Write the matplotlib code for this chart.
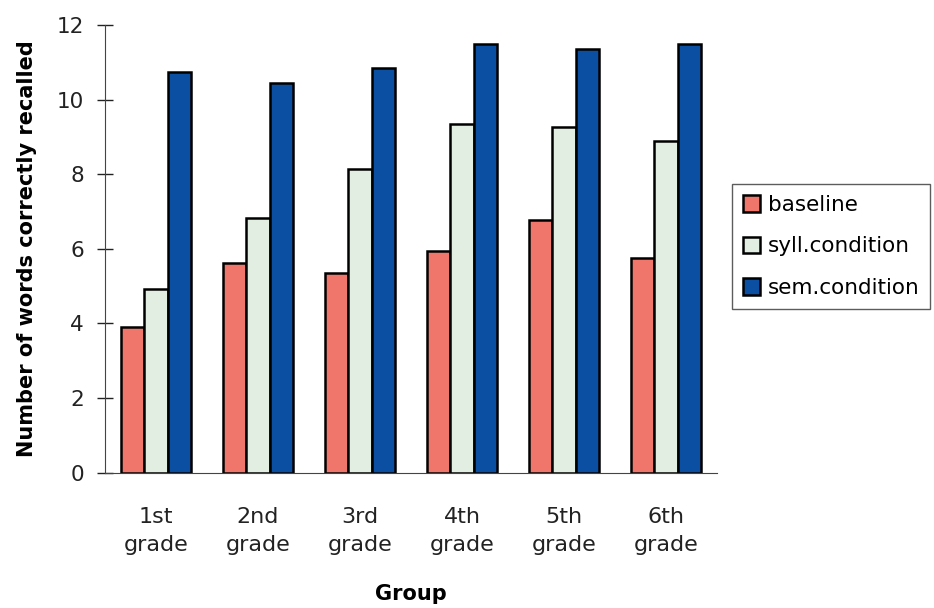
import numpy as np
import matplotlib.pyplot as plt

groups = ["1st\ngrade", "2nd\ngrade", "3rd\ngrade", "4th\ngrade", "5th\ngrade", "6th\ngrade"]
baseline = [3.91, 5.63, 5.34, 5.95, 6.77, 5.76]
syll = [4.92, 6.82, 8.14, 9.34, 9.27, 8.89]
sem = [10.75, 10.45, 10.86, 11.48, 11.36, 11.48]

series = [("baseline", baseline, "#f0756b"),
          ("syll.condition", syll, "#e2eee2"),
          ("sem.condition", sem, "#0b4fa3")]

fig = plt.figure(figsize=(9.34, 6.08), dpi=100)
ax = fig.add_axes([0.1124, 0.2225, 0.6553, 0.7364])

x = np.arange(len(groups)) + 0.5
w = 0.23
for i, (name, vals, col) in enumerate(series):
    ax.bar(x + (i - 1) * w, vals, w, color=col, edgecolor="black",
           linewidth=1.8, label=name)

ax.set_xlim(0, len(groups))
ax.set_ylim(0, 12)
ax.set_yticks(range(0, 13, 2))
ax.set_xticks(x)
ax.set_xticklabels(groups, fontsize=16, color="#222222", linespacing=1.45)
ax.tick_params(axis="y", labelsize=15.5, direction="inout", length=12,
               width=1, colors="#222222", pad=9)
ax.tick_params(axis="x", length=0, pad=25)
for s in ["top", "right"]:
    ax.spines[s].set_visible(False)
ax.spines["left"].set_color("#444444")
ax.spines["bottom"].set_color("#444444")

ax.set_ylabel("Number of words correctly recalled", fontsize=15,
              fontweight="bold", labelpad=14)
ax.set_xlabel("Group", fontsize=15, fontweight="bold", labelpad=21)

leg = fig.legend(loc="center left", bbox_to_anchor=(0.784, 0.5946),
                 fontsize=15.5, frameon=True, fancybox=False, edgecolor="#333333",
                 handlelength=0.8, handleheight=0.8, handletextpad=0.35,
                 borderpad=0.5, labelspacing=1.0, borderaxespad=0)
leg.get_frame().set_linewidth(1.0)

fig.savefig("out.png", dpi=100)
